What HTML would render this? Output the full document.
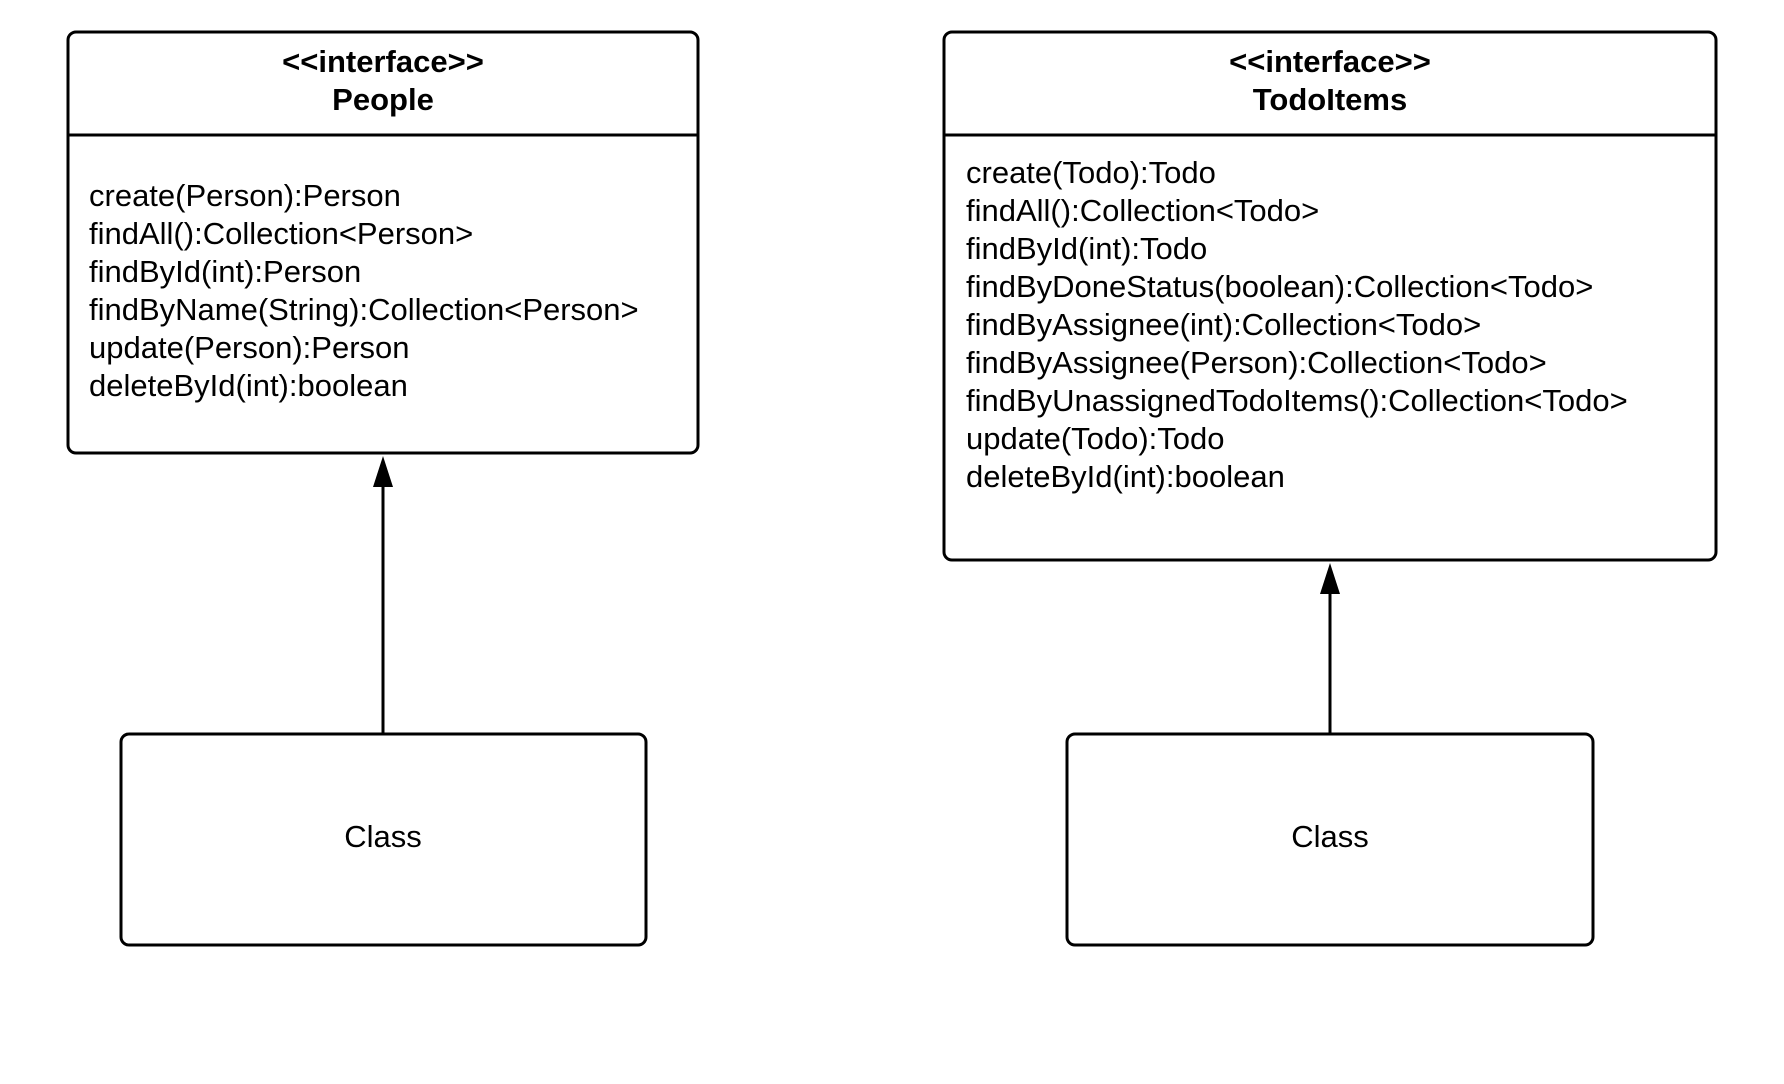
<!DOCTYPE html>
<html><head><meta charset="utf-8"><style>
html,body{margin:0;padding:0;background:#fff;}
svg{display:block;}
text{font-family:"Liberation Sans",Arial,sans-serif;fill:#000;}
</style></head><body>
<svg width="1784" height="1084" viewBox="0 0 1784 1084" xmlns="http://www.w3.org/2000/svg">
<g fill="#fff" stroke="#000" stroke-width="3">
<rect x="68" y="32" width="630" height="421" rx="8"/>
<line x1="68" y1="135" x2="698" y2="135"/>
<rect x="944" y="32" width="772" height="528" rx="8"/>
<line x1="944" y1="135" x2="1716" y2="135"/>
<rect x="121" y="734" width="525" height="211" rx="8"/>
<rect x="1067" y="734" width="526" height="211" rx="8"/>
<line x1="383" y1="484" x2="383" y2="734"/>
<line x1="1330" y1="591" x2="1330" y2="734"/>
</g>
<polygon points="383,456 373,487 393,487" fill="#000"/>
<polygon points="1330,563 1320,594 1340,594" fill="#000"/>
<g font-size="31" font-weight="bold" text-anchor="middle">
<text x="383" y="72">&lt;&lt;interface&gt;&gt;</text>
<text x="383" y="110">People</text>
<text x="1330" y="72">&lt;&lt;interface&gt;&gt;</text>
<text x="1330" y="110">TodoItems</text>
</g>
<g font-size="31">
<text x="89" y="206">create(Person):Person</text>
<text x="89" y="244">findAll():Collection&lt;Person&gt;</text>
<text x="89" y="282">findById(int):Person</text>
<text x="89" y="320">findByName(String):Collection&lt;Person&gt;</text>
<text x="89" y="358">update(Person):Person</text>
<text x="89" y="396">deleteById(int):boolean</text>
<text x="966" y="183">create(Todo):Todo</text>
<text x="966" y="221">findAll():Collection&lt;Todo&gt;</text>
<text x="966" y="259">findById(int):Todo</text>
<text x="966" y="297">findByDoneStatus(boolean):Collection&lt;Todo&gt;</text>
<text x="966" y="335">findByAssignee(int):Collection&lt;Todo&gt;</text>
<text x="966" y="373">findByAssignee(Person):Collection&lt;Todo&gt;</text>
<text x="966" y="411">findByUnassignedTodoItems():Collection&lt;Todo&gt;</text>
<text x="966" y="449">update(Todo):Todo</text>
<text x="966" y="487">deleteById(int):boolean</text>
<text x="383" y="847" text-anchor="middle">Class</text>
<text x="1330" y="847" text-anchor="middle">Class</text>
</g>
</svg>
</body></html>
